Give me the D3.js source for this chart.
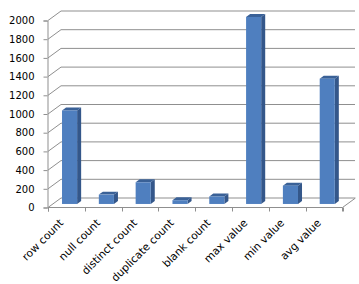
<!DOCTYPE html>
<html><head><meta charset="utf-8">
<script src="https://cdn.jsdelivr.net/npm/d3@7"></script>
<style>body{margin:0;background:#fff}svg{display:block}</style>
</head><body>
<svg id="c" width="359" height="284"></svg>
<script>
const categories = ["row count","null count","distinct count","duplicate count","blank count","max value","min value","avg value"];
const values = [1000, 100, 232, 40, 80, 2000, 196, 1340];
const yTicks = [0,200,400,600,800,1000,1200,1400,1600,1800,2000];

const svg = d3.select("#c");
const DX = 13, DY = -9.5; // depth offset of back wall
const x = d3.scaleBand().domain(categories).range([48, 342.5]).paddingInner(0).paddingOuter(0);
const y = d3.scaleLinear().domain([0, 2000]).range([207, 20]);
const grid = "#8f8f8f";

const g = svg.append("g");
yTicks.forEach(v => {
  const yf = y(v);
  g.append("path")
    .attr("d", `M48,${yf+0.5}L${48+DX},${yf+DY+0.5}L355,${yf+DY+0.5}`)
    .attr("fill","none").attr("stroke",grid).attr("stroke-width",1);
});
g.append("line").attr("x1",342.5).attr("y1",y(0)+0.5).attr("x2",342.5+DX).attr("y2",y(0)+DY+0.5)
  .attr("stroke",grid);

const yAxis = d3.axisLeft(y).tickValues(yTicks).tickSize(4).tickPadding(9).tickFormat(d3.format("d"));
const ya = svg.append("g").attr("transform","translate(47.5,0.5)").call(yAxis);
ya.select(".domain").attr("stroke",grid);
ya.selectAll(".tick line").attr("stroke",grid);
ya.selectAll("text").attr("font-family","DejaVu Sans").attr("font-size",10).attr("fill","#000");

const xAxis = d3.axisBottom(x).tickSize(4).tickFormat("");
const xa = svg.append("g").attr("transform",`translate(0,${y(0)+0.5})`).call(xAxis);
xa.select(".domain").attr("stroke",grid).attr("d","M48.5,4V0H342.5V4");
xa.selectAll(".tick").remove();
const bounds = categories.map((c,i)=>x(c)).concat([x.range()[1]]);
xa.selectAll(".bt").data(bounds).join("line").attr("class","bt")
  .attr("x1",d=>Math.round(d)+0.5).attr("x2",d=>Math.round(d)+0.5).attr("y1",0).attr("y2",4).attr("stroke",grid);

svg.append("g").selectAll("text").data(categories).join("text")
  .attr("transform", d => `translate(${x(d)+x.bandwidth()/2-5},${y(0)+14}) rotate(-45)`)
  .attr("text-anchor","end").attr("dy","0.35em")
  .attr("font-family","DejaVu Sans").attr("font-size",10.7).attr("fill","#000")
  .text(d=>d);

const f1 = 0.32, f2 = 0.63;
const bw = x.bandwidth()*0.41;
const bars = svg.append("g");
categories.forEach((c,i) => {
  const v = values[i];
  const x0 = x(c) + (x.bandwidth()-bw)/2 + DX*f1 - 1;
  const x1 = x0 + bw;
  const yb = y(0) + DY*f1;
  const yt = y(v) + DY*f1;
  const ox = DX*(f2-f1), oy = DY*(f2-f1);
  bars.append("path").attr("d",`M${x1},${yb}L${x1+ox},${yb+oy}L${x1+ox},${yt+oy}L${x1},${yt}Z`).attr("fill","#34578a");
  bars.append("path").attr("d",`M${x0},${yt}L${x0+ox},${yt+oy}L${x1+ox},${yt+oy}L${x1},${yt}Z`).attr("fill","#3a6197");
  bars.append("rect").attr("x",x0).attr("y",yt).attr("width",bw).attr("height",yb-yt).attr("fill","#4f7fbf");
});
</script>
</body></html>
